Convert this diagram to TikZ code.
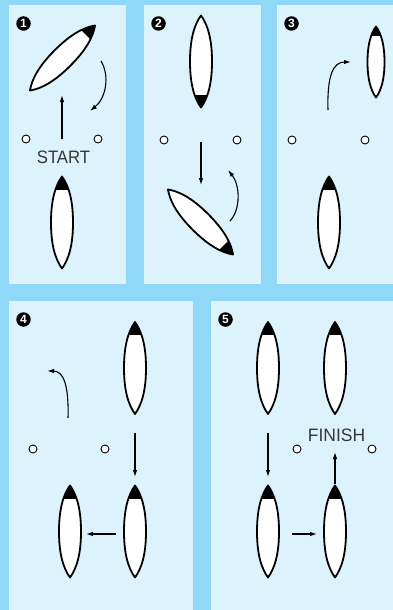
\documentclass[tikz,border=0pt]{standalone}
\usepackage{fontspec}
\setmainfont{Liberation Sans}
\usepackage{graphicx}
\usetikzlibrary{arrows.meta}
\definecolor{outerblue}{RGB}{143,216,247}
\definecolor{panelblue}{RGB}{220,242,253}
\definecolor{labelgray}{RGB}{55,55,55}
\tikzset{
  panel/.style={fill=panelblue, draw=none},
  buoy/.style={circle, draw=black, fill=white, line width=0.9pt, minimum size=8pt, inner sep=0pt},
  badge/.style={circle, fill=black, text=white, minimum size=14.5pt, inner sep=0pt,
    font=\bfseries\fontsize{12}{12}\selectfont},
  move/.style={line width=1.1pt, -{Latex[length=7pt,width=4.5pt]}},
  tagtext/.style={text=labelgray, inner sep=0pt, font=\fontsize{18}{18}\selectfont},
  pics/boat/.style n args={3}{code={
    \begin{scope}
      \clip (0,-#1) .. controls ({0.3*#2},{-0.8*#1}) and ({0.5*#2},{-0.5*#1}) .. ({0.5*#2},0)
            .. controls ({0.5*#2},{0.5*#1}) and ({0.3*#2},{0.8*#1}) .. (0,#1)
            .. controls ({-0.3*#2},{0.8*#1}) and ({-0.5*#2},{0.5*#1}) .. ({-0.5*#2},0)
            .. controls ({-0.5*#2},{-0.5*#1}) and ({-0.3*#2},{-0.8*#1}) .. cycle;
      \fill[white] ({-#2},{-#1-2}) rectangle ({#2},{#1+2});
      \fill[black] ({-#2},{-#1-2}) rectangle ({#2},{-#1+#3});
    \end{scope}
    \draw[line width=1.8pt, line join=round] (0,-#1) .. controls ({0.3*#2},{-0.8*#1}) and ({0.5*#2},{-0.5*#1}) .. ({0.5*#2},0)
            .. controls ({0.5*#2},{0.5*#1}) and ({0.3*#2},{0.8*#1}) .. (0,#1)
            .. controls ({-0.3*#2},{0.8*#1}) and ({-0.5*#2},{0.5*#1}) .. ({-0.5*#2},0)
            .. controls ({-0.5*#2},{-0.5*#1}) and ({-0.3*#2},{-0.8*#1}) .. cycle;
  }}
}
\begin{document}
\begin{tikzpicture}[x=1pt, y=-1pt]
\useasboundingbox (0,0) rectangle (393,610);
\fill[outerblue] (0,0) rectangle (393,610);
% panels
\fill[panel] (9,5) rectangle (126,284);
\fill[panel] (144,5) rectangle (261,284);
\fill[panel] (277,5) rectangle (393,284);
\fill[panel] (9,301) rectangle (193,610);
\fill[panel] (211,301) rectangle (393,610);

% badges
\node[badge] (n1) at (23.5,23.5) {1};
\node[badge] (n2) at (158.5,23.5) {2};
\node[badge] (n3) at (291.5,23.5) {3};
\node[badge] (n4) at (23.5,319.5) {4};
\node[badge] (n5) at (225.5,319.5) {5};

% ---------- panel 1 ----------
\pic[rotate=-45] at (62.5,58) {boat={46}{22}{13}};
\pic at (62,222.5) {boat={46}{22}{13}};
\node[buoy] (b1l) at (26,139) {};
\node[buoy] (b1r) at (98,139) {};
\node[tagtext] (start) at (63.5,157) {\scalebox{0.93}[1]{START}};
\coordinate (a1s) at (62,139);
\coordinate (a1e) at (62,95);
\draw[move] (a1s) -- (a1e);
\coordinate (c1s) at (101,61);
\coordinate (c1e) at (90,111);
\draw[move] (c1s) .. controls (110,76) and (106,98) .. (c1e);

% ---------- panel 2 ----------
\pic[rotate=180] at (201,61.5) {boat={46}{22}{13}};
\pic[rotate=-135] at (200.5,222) {boat={46}{22}{13}};
\node[buoy] (b2l) at (164,140) {};
\node[buoy] (b2r) at (237,140) {};
\coordinate (a2s) at (201,142);
\coordinate (a2e) at (201,185);
\draw[move] (a2s) -- (a2e);
\coordinate (c2s) at (230,221);
\coordinate (c2e) at (228,170);
\draw[move] (c2s) .. controls (241,209) and (240,185) .. (c2e);

% ---------- panel 3 ----------
\pic at (376,62) {boat={35.5}{17}{10}};
\pic at (329,222.5) {boat={46}{22}{13}};
\node[buoy] (b3l) at (292,140) {};
\node[buoy] (b3r) at (365,140) {};
\coordinate (c3s) at (328,110);
\coordinate (c3e) at (351,62);
\draw[move] (c3s) .. controls (327,76) and (333,62) .. (c3e);

% ---------- panel 4 ----------
\pic at (135,368) {boat={46}{22}{13}};
\pic at (135,531.5) {boat={46}{22}{13}};
\pic at (70,531.5) {boat={46}{22}{13}};
\node[buoy] (b4l) at (33,449) {};
\node[buoy] (b4r) at (105,449) {};
\coordinate (c4s) at (68,418);
\coordinate (c4e) at (47,371);
\draw[move] (c4s) .. controls (69,384) and (63,371) .. (c4e);
\coordinate (a4s) at (135,433);
\coordinate (a4e) at (135,477);
\draw[move] (a4s) -- (a4e);
\coordinate (d4s) at (116,534);
\coordinate (d4e) at (86,534);
\draw[move] (d4s) -- (d4e);

% ---------- panel 5 ----------
\pic at (268,368) {boat={46}{22}{13}};
\pic at (335,368) {boat={46}{22}{13}};
\pic at (268,531.5) {boat={46}{22}{13}};
\pic at (335,531.5) {boat={46}{22}{13}};
\node[buoy] (b5l) at (297,449) {};
\node[buoy] (b5r) at (372,449) {};
\node[tagtext] (finish) at (336.5,435.5) {\scalebox{0.97}[1]{FINISH}};
\coordinate (a5s) at (268,433);
\coordinate (a5e) at (268,477);
\draw[move] (a5s) -- (a5e);
\coordinate (d5s) at (292,534);
\coordinate (d5e) at (317,534);
\draw[move] (d5s) -- (d5e);
\coordinate (u5s) at (335,484);
\coordinate (u5e) at (335,452);
\draw[move] (u5s) -- (u5e);
\end{tikzpicture}
\end{document}
